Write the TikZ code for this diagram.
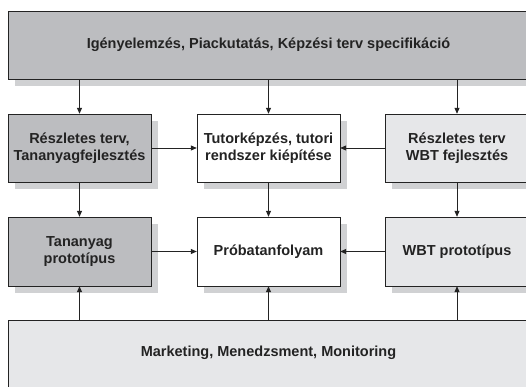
\documentclass[tikz,border=0pt]{standalone}
\usepackage{fontspec}
\setmainfont{Liberation Sans}
\usetikzlibrary{arrows.meta}
\definecolor{dkfill}{RGB}{188,189,192}
\definecolor{ltfill}{RGB}{230,231,233}
\definecolor{shad}{RGB}{208,209,211}
\definecolor{ink}{RGB}{35,35,35}
\tikzset{
  box/.style={draw=ink, line width=0.9pt},
  lbl/.style={font=\bfseries\fontsize{14.5}{17}\selectfont, text=ink, align=center, inner sep=0pt},
  conn/.style={draw=ink, line width=0.8pt, -{Triangle[length=6pt,width=5pt]}},
}
\newcommand{\shbox}[7]{% name, x1, y1, x2, y2, fill, text
  \fill[shad] (#2+7,387-#3-7) rectangle (#4+7,387-#5-7);
  \path[box, fill=#6] (#2,387-#3) rectangle (#4,387-#5);
  \node[lbl, minimum width=#4-#2, minimum height=#5-#3] (#1) at ({(#2+#4)/2},{387-(#3+#5)/2}) {#7};
}
\begin{document}
\begin{tikzpicture}[x=1pt,y=1pt]
\useasboundingbox (0,0) rectangle (526,387);
\clip (0,0) rectangle (526,387);
\fill[white] (0,0) rectangle (526,387);
\shbox{top}{8}{11}{529}{79}{dkfill}{Igényelemzés, Piackutatás, Képzési terv specifikáció}
\shbox{rl}{8}{114}{151}{182}{dkfill}{Részletes terv,\\Tananyagfejlesztés}
\shbox{rm}{197}{114}{340}{182}{white}{Tutorképzés, tutori\\rendszer kiépítése}
\shbox{rr}{385}{114}{529}{182}{ltfill}{Részletes terv\\WBT fejlesztés}
\shbox{pl}{8}{217}{151}{286}{dkfill}{Tananyag\\prototípus}
\shbox{pm}{197}{217}{340}{286}{white}{Próbatanfolyam}
\shbox{pr}{385}{217}{529}{286}{ltfill}{WBT prototípus}
\shbox{bot}{8}{320}{529}{400}{ltfill}{}
\node[lbl] (botlabel) at (268.5,387-353) {Marketing, Menedzsment, Monitoring};
\draw[conn] (top.south -| rl.center) -- (rl.north);
\draw[conn] (top.south -| rm.center) -- (rm.north);
\draw[conn] (top.south -| rr.center) -- (rr.north);
\draw[conn] (rl.south) -- (pl.north);
\draw[conn] (rm.south) -- (pm.north);
\draw[conn] (rr.south) -- (pr.north);
\draw[conn] (rl.east) -- (rm.west);
\draw[conn] (rr.west) -- (rm.east);
\draw[conn] (pl.east) -- (pm.west);
\draw[conn] (pr.west) -- (pm.east);
\draw[conn] (bot.north -| pl.center) -- (pl.south);
\draw[conn] (bot.north -| pm.center) -- (pm.south);
\draw[conn] (bot.north -| pr.center) -- (pr.south);
\end{tikzpicture}
\end{document}
